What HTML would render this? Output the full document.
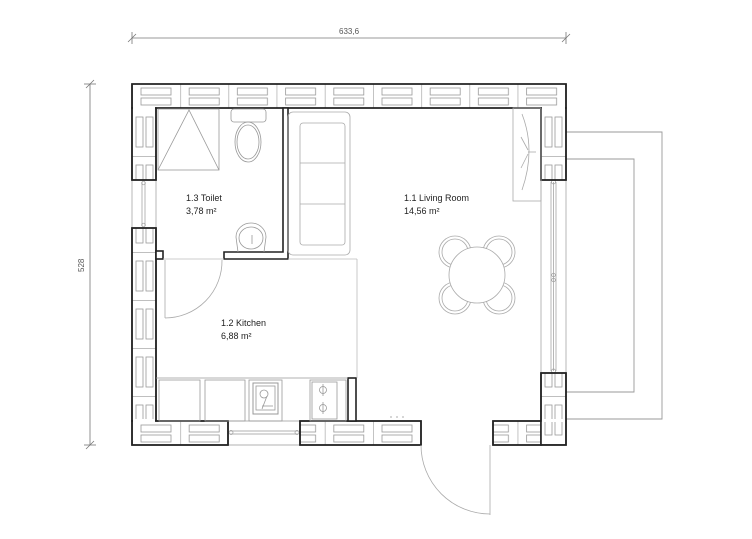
<!DOCTYPE html>
<html><head><meta charset="utf-8"><style>
html,body{margin:0;padding:0;background:#fff;}
svg{display:block;}
text{font-family:"Liberation Sans",sans-serif;font-size:9px;fill:#222;}
</style></head><body>
<svg width="752" height="539" viewBox="0 0 752 539" xmlns="http://www.w3.org/2000/svg">
<defs>
<pattern id="hp1" patternUnits="userSpaceOnUse" x="132" y="84" width="48.2" height="24">
<rect width="48.2" height="24" fill="#fff"/>
<line x1="0.3" y1="0" x2="0.3" y2="24" stroke="#aaa" stroke-width="0.8"/>
<rect x="9" y="4" width="30" height="7" fill="none" stroke="#999" stroke-width="0.8"/>
<rect x="9" y="14" width="30" height="7" fill="none" stroke="#999" stroke-width="0.8"/>
</pattern>
<pattern id="hp2" patternUnits="userSpaceOnUse" x="132" y="421" width="48.2" height="24">
<rect width="48.2" height="24" fill="#fff"/>
<line x1="0.3" y1="0" x2="0.3" y2="24" stroke="#aaa" stroke-width="0.8"/>
<rect x="9" y="4" width="30" height="7" fill="none" stroke="#999" stroke-width="0.8"/>
<rect x="9" y="14" width="30" height="7" fill="none" stroke="#999" stroke-width="0.8"/>
</pattern>
<pattern id="vp1" patternUnits="userSpaceOnUse" x="132" y="108" width="24" height="48">
<rect width="24" height="48" fill="#fff"/>
<line x1="0" y1="0.3" x2="24" y2="0.3" stroke="#aaa" stroke-width="0.8"/>
<rect x="4" y="9" width="7" height="30" fill="none" stroke="#999" stroke-width="0.8"/>
<rect x="14" y="9" width="7" height="30" fill="none" stroke="#999" stroke-width="0.8"/>
</pattern>
<pattern id="vp2" patternUnits="userSpaceOnUse" x="541" y="108" width="25" height="48">
<rect width="25" height="48" fill="#fff"/>
<line x1="0" y1="0.3" x2="25" y2="0.3" stroke="#aaa" stroke-width="0.8"/>
<rect x="4" y="9" width="7" height="30" fill="none" stroke="#999" stroke-width="0.8"/>
<rect x="14" y="9" width="7" height="30" fill="none" stroke="#999" stroke-width="0.8"/>
</pattern>
</defs>

<g stroke="#777" stroke-width="0.8" fill="none">
<line x1="132" y1="38" x2="566" y2="38"/>
<line x1="132" y1="32" x2="132" y2="44"/><line x1="566" y1="32" x2="566" y2="44"/>
<line x1="128" y1="42" x2="136" y2="34"/><line x1="562" y1="42" x2="570" y2="34"/>
<line x1="90" y1="84" x2="90" y2="445"/>
<line x1="84" y1="84" x2="96" y2="84"/><line x1="84" y1="445" x2="96" y2="445"/>
<line x1="86" y1="88" x2="94" y2="80"/><line x1="86" y1="449" x2="94" y2="441"/>
</g>
<text x="339" y="34" style="font-size:8px;fill:#555">633,6</text>
<text x="0" y="0" transform="translate(84,272) rotate(-90)" style="font-size:8px;fill:#555">528</text>

<g stroke="#999" stroke-width="0.9" fill="none">
<polyline points="566,132 662,132 662,419 566,419"/>
<polyline points="566,159 634,159 634,392 566,392"/>
</g>

<g stroke="#999" stroke-width="0.7" fill="none">
<line x1="541" y1="180" x2="541" y2="373"/>
<line x1="566" y1="180" x2="566" y2="373"/>
<line x1="551" y1="182" x2="551" y2="371"/>
<line x1="553.5" y1="182" x2="553.5" y2="371"/>
<line x1="556" y1="182" x2="556" y2="371"/>
<circle cx="553.5" cy="182" r="2"/><circle cx="553.5" cy="371" r="2"/>
<circle cx="553.5" cy="275" r="1.8"/><circle cx="553.5" cy="280" r="1.8"/>
</g>
<g stroke="#999" stroke-width="0.7" fill="none">
<line x1="132" y1="180" x2="132" y2="228"/>
<line x1="156" y1="180" x2="156" y2="228"/>
<line x1="142" y1="182" x2="142" y2="226"/>
<line x1="145" y1="182" x2="145" y2="226"/>
<circle cx="143.5" cy="183" r="1.8"/><circle cx="143.5" cy="225" r="1.8"/>
</g>
<g stroke="#999" stroke-width="0.7" fill="none">
<line x1="228" y1="421" x2="300" y2="421"/>
<line x1="228" y1="445" x2="300" y2="445"/>
<line x1="230" y1="431" x2="298" y2="431"/>
<line x1="230" y1="434" x2="298" y2="434"/>
<circle cx="231" cy="432.5" r="2"/><circle cx="297" cy="432.5" r="2"/>
</g>

<g stroke="#222" stroke-width="1.6">
<path d="M132,84 H566 V108 H156 V108 H132 Z" fill="url(#hp1)"/>
<rect x="132" y="108" width="24" height="72" fill="url(#vp1)"/>
<rect x="132" y="228" width="24" height="193" fill="url(#vp1)"/>
<rect x="132" y="421" width="96" height="24" fill="url(#hp2)"/>
<rect x="300" y="421" width="121" height="24" fill="url(#hp2)"/>
<rect x="493" y="421" width="48" height="24" fill="url(#hp2)"/>
<rect x="541" y="108" width="25" height="72" fill="url(#vp2)"/>
<rect x="541" y="373" width="25" height="72" fill="url(#vp2)"/>
</g>
<g fill="#fff" stroke="none">
<rect x="133" y="107" width="22" height="3"/>
<rect x="542" y="107" width="23" height="3"/>
<rect x="133" y="419" width="22" height="3"/>
<rect x="542" y="419" width="23" height="3"/>
</g>
<g stroke="#222" stroke-width="1.6" fill="none">
<path d="M132,84 H566 V180 H541 V108 H156 V180 H132 Z"/>
<path d="M132,228 H156 V421 H228 V445 H132 Z"/>
<path d="M300,421 H421 V445 H300 Z"/>
<path d="M541,373 H566 V445 H493 V421 H541 Z"/>
</g>

<g stroke="#222" stroke-width="1.6" fill="#fff">
<path d="M283,108 H288 V259 H224 V252 H283 Z"/>
<rect x="156" y="251" width="7" height="8"/>
<rect x="348" y="378" width="8" height="43"/>
</g>

<g stroke="#bbb" stroke-width="0.8" fill="none">
<line x1="163" y1="259" x2="224" y2="259"/>
<line x1="288" y1="259" x2="357" y2="259"/>
<line x1="357" y1="259" x2="357" y2="378"/>
</g>

<g stroke="#aaa" stroke-width="0.8" fill="none">
<line x1="165" y1="260" x2="165" y2="318"/>
<path d="M222,260 A57,57 0 0 1 165,318"/>
</g>
<g stroke="#aaa" stroke-width="0.8" fill="none">
<line x1="490" y1="445" x2="490" y2="515"/>
<path d="M421,445 A69,69 0 0 0 490,514"/>
</g>

<g stroke="#999" stroke-width="0.8" fill="none">
<line x1="156" y1="378" x2="348" y2="378"/>
<rect x="159" y="380" width="41" height="41"/>
<rect x="205" y="380" width="40" height="41"/>
<rect x="249" y="380" width="33" height="41"/>
<rect x="253" y="383" width="25" height="31" stroke-width="1"/>
<rect x="256" y="386" width="19" height="24"/>
<circle cx="264" cy="394" r="4"/>
<line x1="267" y1="396" x2="262" y2="409"/>
<line x1="262" y1="406" x2="273" y2="406"/>
<rect x="310" y="380" width="36" height="41"/>
<rect x="312" y="382" width="25" height="37"/>
<circle cx="323" cy="390" r="3.5"/><circle cx="323" cy="408" r="3.5"/>
<line x1="323" y1="384" x2="323" y2="396"/><line x1="323" y1="402" x2="323" y2="414"/>
<line x1="390" y1="417" x2="392" y2="417"/><line x1="396" y1="417" x2="398" y2="417"/><line x1="402" y1="417" x2="404" y2="417"/>
</g>

<g stroke="#999" stroke-width="0.8" fill="none">
<rect x="158" y="109" width="61" height="61"/>
<polyline points="158,170 189,110 219,170"/>
<rect x="231" y="109" width="35" height="13" rx="3"/>
<ellipse cx="248" cy="142" rx="13" ry="20"/>
<ellipse cx="248" cy="142" rx="11" ry="17"/>
<path d="M238,252 L236,237 A15,14 0 0 1 266,237 L264,252"/>
<ellipse cx="251" cy="238" rx="12" ry="11"/>
<line x1="252" y1="235" x2="252" y2="244"/>
</g>

<g stroke="#aaa" stroke-width="0.8" fill="none">
<rect x="288" y="112" width="62" height="143" rx="5"/>
<rect x="300" y="123" width="45" height="122" rx="3"/>
<line x1="300" y1="163" x2="345" y2="163"/>
<line x1="300" y1="204" x2="345" y2="204"/>
</g>

<g stroke="#aaa" stroke-width="0.8" fill="none">
<rect x="513" y="108" width="28" height="93"/>
<path d="M522,114 Q536,150 522,190"/>
<line x1="521" y1="137" x2="528" y2="150"/><line x1="521" y1="168" x2="528" y2="154"/>
<line x1="528" y1="152" x2="536" y2="152"/>
</g>

<g stroke="#aaa" stroke-width="0.8" fill="#fff">
<circle cx="455" cy="252" r="16"/><circle cx="455" cy="252" r="13"/>
<circle cx="499" cy="252" r="16"/><circle cx="499" cy="252" r="13"/>
<circle cx="455" cy="298" r="16"/><circle cx="455" cy="298" r="13"/>
<circle cx="499" cy="298" r="16"/><circle cx="499" cy="298" r="13"/>
<circle cx="477" cy="275" r="28"/>
</g>

<text x="186" y="201">1.3 Toilet</text>
<text x="186" y="214">3,78 m²</text>
<text x="404" y="201">1.1 Living Room</text>
<text x="404" y="214">14,56 m²</text>
<text x="221" y="326">1.2 Kitchen</text>
<text x="221" y="339">6,88 m²</text>
</svg>
</body></html>
